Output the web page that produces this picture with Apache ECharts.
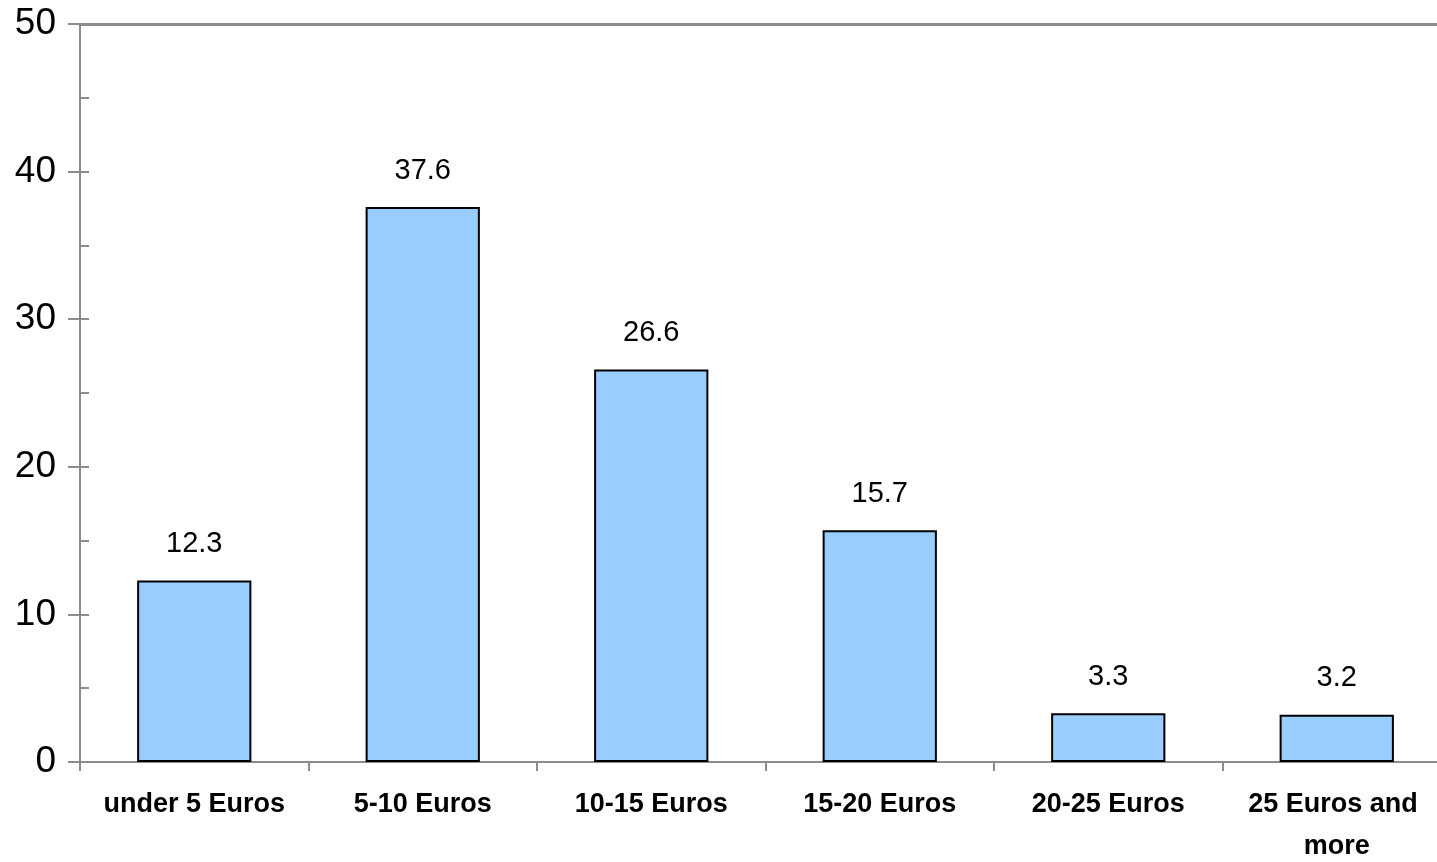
<!DOCTYPE html>
<html>
<head>
<meta charset="utf-8">
<script src="https://cdn.jsdelivr.net/npm/echarts@6/dist/echarts.min.js"></script>
<style>
  html, body { margin: 0; padding: 0; background: #fff; }
  #chart { width: 1437px; height: 862px; }
</style>
</head>
<body>
<div id="chart"></div>
<script>
let categories = ["under 5 Euros", "5-10 Euros", "10-15 Euros", "15-20 Euros", "20-25 Euros", "25 Euros and more"];
let shares = [12.3, 37.6, 26.6, 15.7, 3.3, 3.2];
let yTicks = [0, 10, 20, 30, 40, 50];

let chart = echarts.init(document.getElementById("chart"));

let axisGray = "#8c8c8c";

var option = {
  animation: false,
  grid: {
    left: 80,
    right: -14,
    top: 24,
    bottom: 100,
    containLabel: false,
    outerBoundsMode: "none",
  },
  xAxis: [
    {
      type: "category",
      data: categories,
      axisLine: { lineStyle: { color: axisGray, width: 2 } },
      axisTick: { show: true, length: 9, lineStyle: { color: axisGray, width: 2 } },
      axisLabel: {
        color: "#000",
        fontFamily: "Liberation Sans, Arial",
        fontWeight: "bold",
        fontSize: 27,
        margin: 22,
        lineHeight: 42,
        width: 205,
        overflow: "break",
        interval: 0,
      },
    },
    {
      type: "category",
      data: categories,
      position: "top",
      axisLine: { onZero: false, lineStyle: { color: axisGray, width: 3 } },
      axisTick: { show: false },
      axisLabel: { show: false },
    },
  ],
  yAxis: [
    {
      type: "value",
      min: yTicks[0],
      max: yTicks[yTicks.length - 1],
      interval: 10,
      axisLine: { show: true, lineStyle: { color: axisGray, width: 2 } },
      axisTick: { show: true, length: 12, lineStyle: { color: axisGray, width: 2 } },
      splitLine: { show: false },
      axisLabel: {
        color: "#000",
        fontFamily: "Liberation Sans, Arial",
        fontSize: 37,
        margin: 24,
      },
    },
    {
      type: "value",
      min: yTicks[0],
      max: yTicks[yTicks.length - 1],
      interval: 5,
      position: "left",
      axisLine: { show: false },
      axisTick: { show: true, inside: true, length: 9, lineStyle: { color: axisGray, width: 2 } },
      splitLine: { show: false },
      axisLabel: { show: false },
    },
  ],
  series: [
    {
      name: "share",
      type: "bar",
      data: shares,
      barWidth: "50%",
      itemStyle: { color: "#99CCFF", borderColor: "#000", borderWidth: 2 },
      label: {
        show: true,
        position: "top",
        distance: 22,
        color: "#000",
        fontFamily: "Liberation Sans, Arial",
        fontSize: 29,
      },
    },
  ],
};

chart.setOption(option);

window.onresize = function () {
  chart.resize();
};
</script>
</body>
</html>
